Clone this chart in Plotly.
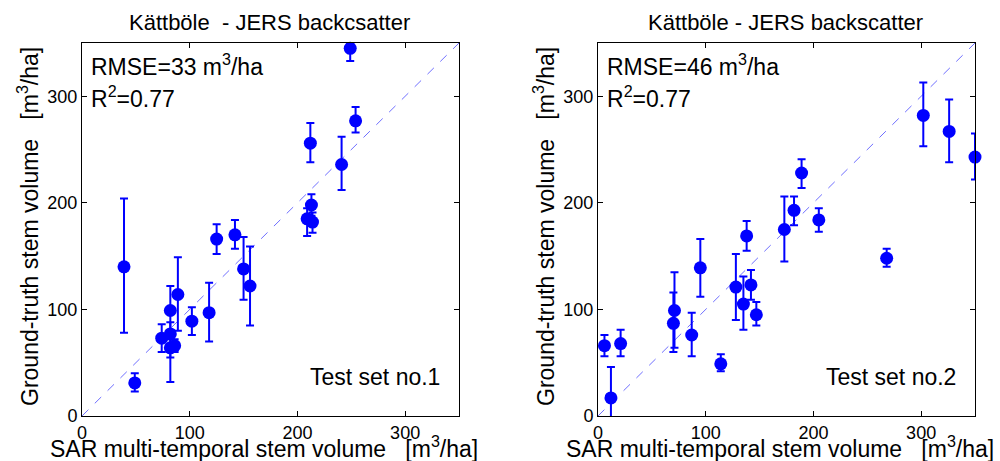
import plotly.graph_objects as go

# Test set no.1: SAR estimate (x), ground truth (y), error-bar ends
sar_1 = [39, 49, 74, 82, 82, 82, 86, 89, 102, 118, 125, 142, 150, 156,
         209, 212, 213, 214, 241, 249, 254]
truth_1 = [140, 31, 73, 99, 77, 64, 66, 114, 89, 97, 166, 170, 138, 122,
           185, 256, 198, 182, 236, 345, 277]
upper_1 = [204, 40, 86, 122, 88, 72, 72, 149, 102, 125, 180, 184, 168, 159,
           195, 275, 208, 191, 262, 349, 290]
lower_1 = [78, 23, 60, 80, 32, 55, 60, 80, 76, 70, 152, 157, 109, 85,
           169, 238, 188, 172, 212, 333, 266]

# Test set no.2
sar_2 = [6, 12, 21, 70, 71, 87, 95, 114, 128, 135, 138, 142, 147, 173,
         182, 189, 205, 268, 302, 326, 350]
truth_2 = [66, 17, 68, 87, 99, 76, 139, 49, 121, 105, 169, 123, 95, 175,
           193, 228, 184, 148, 282, 267, 243]
upper_2 = [76, 46, 81, 116, 135, 97, 166, 58, 152, 131, 183, 137, 107, 206,
           206, 241, 195, 157, 313, 297, 265]
lower_2 = [56, -5, 56, 60, 64, 56, 112, 42, 90, 81, 155, 109, 85, 145,
           179, 214, 173, 140, 253, 238, 222]

ticks = [0, 100, 200, 300]
axis_max = 350

titles = ["Kättböle  - JERS backcsatter", "Kättböle - JERS backscatter"]
rmse_labels = ["RMSE=33 m<sup>3</sup>/ha", "RMSE=46 m<sup>3</sup>/ha"]
r2_labels = ["R<sup>2</sup>=0.77", "R<sup>2</sup>=0.77"]
set_labels = ["Test set no.1", "Test set no.2"]
x_title = "SAR multi-temporal stem volume   [m<sup>3</sup>/ha]"
y_title = "Ground-truth stem volume   [m<sup>3</sup>/ha]"

FONT = "Liberation Sans, Arial, sans-serif"
BLUE = "#0000ff"
W, H = 1000, 461

fig = go.Figure()

sets = [(sar_1, truth_1, upper_1, lower_1), (sar_2, truth_2, upper_2, lower_2)]
for i, (xs, ys, up, lo) in enumerate(sets):
    xa = "x" if i == 0 else "x2"
    ya = "y" if i == 0 else "y2"
    # 1:1 reference line
    fig.add_trace(go.Scatter(
        x=[0, axis_max], y=[0, axis_max], mode="lines",
        line=dict(color="#6f6fff", width=1, dash="dash"),
        xaxis=xa, yaxis=ya, showlegend=False, hoverinfo="skip"))
    fig.add_trace(go.Scatter(
        x=xs, y=ys, mode="markers",
        marker=dict(color=BLUE, size=13, symbol="circle"),
        error_y=dict(type="data", symmetric=False,
                     array=[u - v for u, v in zip(up, ys)],
                     arrayminus=[v - l for v, l in zip(ys, lo)],
                     color=BLUE, thickness=2, width=4),
        xaxis=xa, yaxis=ya, showlegend=False, cliponaxis=False))

# plot-area boxes in pixels (left, right, top, bottom)
boxes = [(82, 459, 43, 416), (598, 975, 43, 416)]


def px_x(p):
    return p / W


def px_y(p):
    return (H - p) / H


axis_common = dict(
    range=[0, axis_max], tickvals=ticks, ticks="inside", ticklen=5,
    tickcolor="black", showline=True, linecolor="black", linewidth=1,
    mirror="ticks", showgrid=False, zeroline=False, automargin=False,
    tickfont=dict(family=FONT, size=18, color="black"))

layout = dict(
    template="none",
    width=W, height=H, margin=dict(l=0, r=0, t=0, b=0, pad=0),
    paper_bgcolor="white", plot_bgcolor="white", showlegend=False)


def note(text, x, y, size, xanchor="center", yanchor="middle", angle=0):
    return dict(text=text, x=px_x(x), y=px_y(y), xref="paper", yref="paper",
                showarrow=False, xanchor=xanchor, yanchor=yanchor,
                textangle=angle,
                font=dict(family=FONT, size=size, color="black"))


annotations = []
for i, (l, r, t, b) in enumerate(boxes):
    sx = "" if i == 0 else "2"
    layout["xaxis" + sx] = dict(axis_common, domain=[px_x(l), px_x(r)],
                                anchor="y" + sx)
    layout["yaxis" + sx] = dict(axis_common, domain=[px_y(b), px_y(t)],
                                anchor="x" + sx)
    cx = (l + r) / 2
    annotations.append(note(titles[i], cx - 1, 22, 22))
    annotations.append(note(rmse_labels[i], l + 7, 65, 23, xanchor="left"))
    annotations.append(note(r2_labels[i], l + 7, 97, 23, xanchor="left"))
    annotations.append(note(set_labels[i], r - 17, 377, 23, xanchor="right"))
    annotations.append(note(x_title, cx - 7, 447, 23))
    annotations.append(note(y_title, l - 54, 227, 23, angle=-90))

layout["annotations"] = annotations
fig.update_layout(**layout)
fig.write_html("out.html")
